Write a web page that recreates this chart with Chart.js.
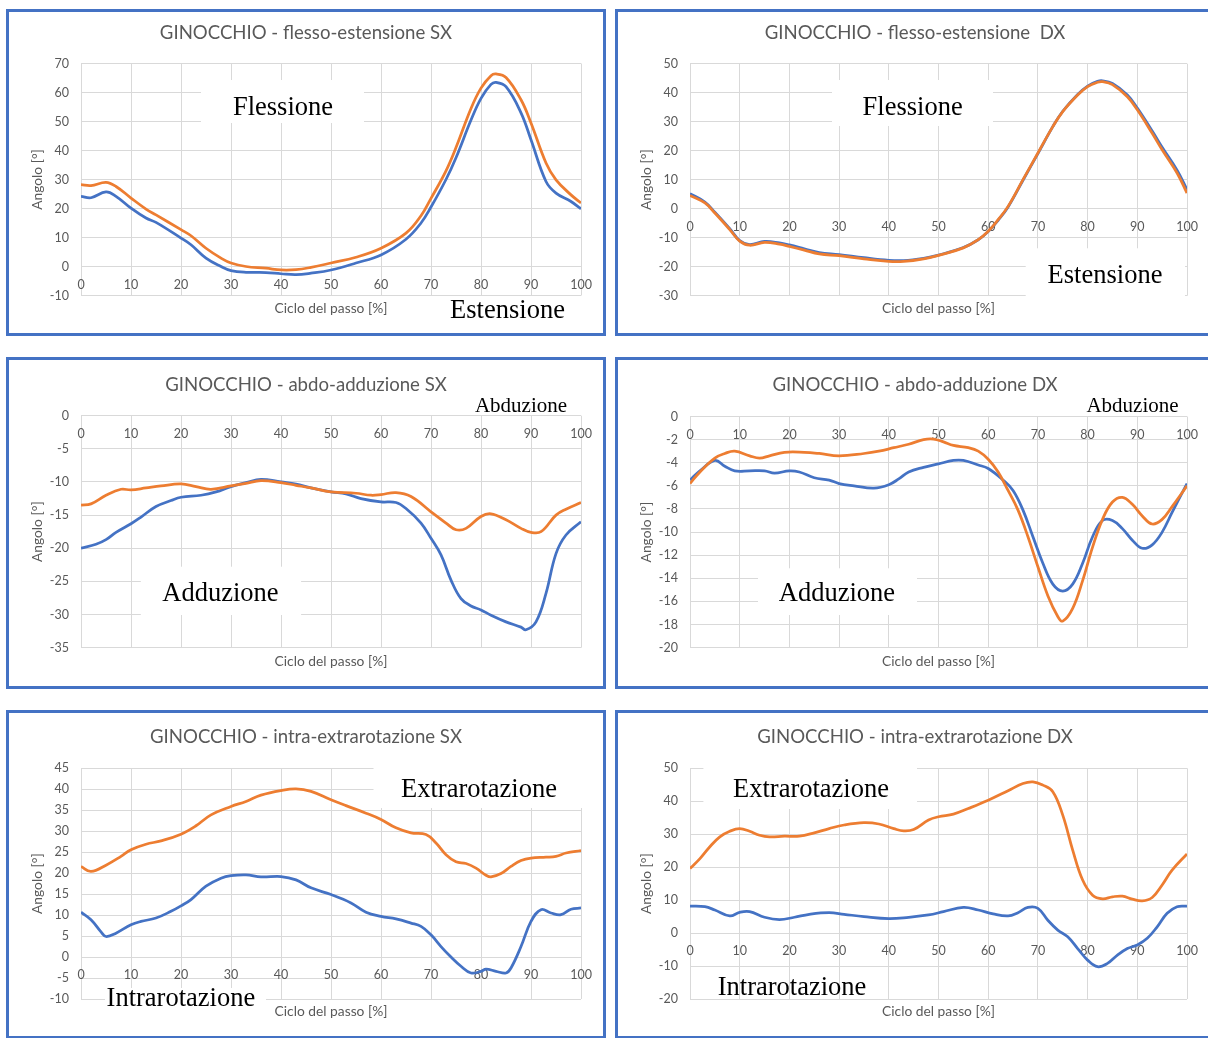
<!DOCTYPE html>
<html>
<head>
<meta charset="utf-8">
<script src="https://cdn.jsdelivr.net/npm/chart.js@4.4.1/dist/chart.umd.min.js"></script>
<style>
  html, body { margin: 0; padding: 0; background: #ffffff; }
  body { position: relative; width: 1208px; height: 1038px; overflow: hidden; }
  .panel { position: absolute; width: 600px; background: #ffffff; }
  .panel canvas { position: absolute; left: 0; top: 0; }
  .frame { position: absolute; left: 0; top: 0; right: 0; bottom: 0; border: 3px solid #4472C4; box-sizing: border-box; pointer-events: none; }
</style>
</head>
<body>
<div class="panel" id="p1"><canvas id="c1"></canvas><div class="frame"></div></div>
<div class="panel" id="p2"><canvas id="c2"></canvas><div class="frame"></div></div>
<div class="panel" id="p3"><canvas id="c3"></canvas><div class="frame"></div></div>
<div class="panel" id="p4"><canvas id="c4"></canvas><div class="frame"></div></div>
<div class="panel" id="p5"><canvas id="c5"></canvas><div class="frame"></div></div>
<div class="panel" id="p6"><canvas id="c6"></canvas><div class="frame"></div></div>
<script>
// ---- Knee angles over the gait cycle (% of stride) ----

// Flesso-estensione SX
const flexSxX      = [0,2,5,7,10,13,15,20,22,25,28,30,33,37,40,43,46,50,55,60,65,68,70,73,75,78,80,82,83,85,88,90,93,95,98,100];
const flexSxOrange = [28.2,27.9,29.0,27.6,23.6,19.8,17.8,12.7,10.6,6.3,2.9,1.2,0.0,-0.6,-1.2,-1.1,-0.3,1.2,3.2,6.3,11.5,17.5,23.5,33.0,41.0,54.5,61.5,65.8,66.4,65.2,57.5,49.5,35.7,29.9,24.7,21.9];
const flexSxBlue   = [24.2,23.7,25.7,24.2,20.1,16.7,15.2,9.8,7.5,2.9,0.0,-1.4,-2.0,-2.1,-2.5,-2.8,-2.3,-1.2,1.2,4.0,9.4,15.0,20.5,30.0,37.5,50.5,58.0,62.8,63.5,62.0,53.0,43.7,29.3,25.3,22.4,19.9];

// Flesso-estensione DX
const flexDxX      = [0,3,5,8,10,12,15,18,20,23,26,30,35,40,43,47,50,55,58,60,62,64,67,70,73,75,78,80,82,83,85,88,90,93,95,98,100];
const flexDxOrange = [4.6,2.0,-1.5,-7.2,-11.2,-12.6,-11.6,-12.2,-13.0,-14.3,-15.6,-16.2,-17.3,-18.2,-18.2,-17.3,-16.1,-13.5,-10.7,-7.8,-3.8,0.8,10.0,19.2,28.3,33.5,39.2,42.1,43.6,43.8,42.8,38.6,34.1,26.0,20.3,12.3,5.4];
const flexDxBlue   = [5.2,2.3,-1.2,-6.9,-11.0,-12.4,-11.3,-11.8,-12.5,-13.8,-15.1,-15.8,-16.9,-17.8,-17.9,-17.1,-16.0,-13.4,-10.7,-7.9,-4.0,0.6,9.8,19.0,28.3,33.6,39.4,42.3,43.9,44.1,43.2,39.2,34.7,26.8,21.2,13.3,6.6];

// Abdo-adduzione SX
const abdSxOrangeX = [0,2,5,8,10,13,16,20,23,26,30,33,36,40,43,46,50,55,58,60,63,66,70,73,75,77,80,82,85,88,90,92,95,97,100];
const abdSxOrange  = [-13.5,-13.3,-12.0,-11.1,-11.2,-10.9,-10.6,-10.3,-10.7,-11.1,-10.6,-10.2,-9.8,-10.1,-10.5,-10.9,-11.5,-11.7,-12.0,-11.9,-11.6,-12.2,-14.5,-16.2,-17.2,-17.0,-15.2,-14.8,-15.7,-17.0,-17.6,-17.5,-15.0,-14.1,-13.1];
const abdSxBlueX   = [0,3,5,7,10,12,15,18,20,24,27,30,33,36,40,43,46,50,53,56,60,63,65,68,70,72,74,76,78,80,82,85,88,89,91,93,95,97,100];
const abdSxBlue    = [-20.0,-19.4,-18.7,-17.6,-16.3,-15.3,-13.7,-12.8,-12.3,-12.0,-11.5,-10.7,-10.1,-9.6,-10.0,-10.3,-10.9,-11.5,-11.8,-12.5,-13.0,-13.1,-14.0,-16.2,-18.5,-21.0,-24.8,-27.6,-28.7,-29.3,-30.1,-31.1,-31.9,-32.3,-31.1,-26.8,-20.8,-18.0,-16.0];

// Abdo-adduzione DX
const abdDxOrangeX = [0,2,5,7,9,12,14,16,19,23,26,30,35,38,41,44,47,49,51,53,56,58,60,62,64,66,68,70,72,74,75,77,79,81,83,85,87,89,91,93,95,97,100];
const abdDxOrange  = [-5.8,-4.8,-3.6,-3.2,-3.0,-3.4,-3.6,-3.4,-3.1,-3.1,-3.2,-3.4,-3.2,-3.0,-2.7,-2.4,-2.0,-1.95,-2.2,-2.5,-2.7,-3.0,-3.7,-4.8,-6.4,-8.1,-10.4,-13.0,-15.5,-17.3,-17.7,-16.6,-14.2,-11.3,-8.9,-7.4,-7.0,-7.6,-8.6,-9.3,-8.9,-7.8,-6.0];
const abdDxBlueX   = [0,2,5,7,9,12,15,17,20,22,25,28,30,33,37,40,42,44,47,50,53,55,58,60,63,65,67,69,71,73,75,77,79,81,83,85,87,89,91,93,95,97,100];
const abdDxBlue    = [-5.5,-4.7,-3.8,-4.3,-4.7,-4.7,-4.7,-4.9,-4.7,-4.8,-5.3,-5.5,-5.8,-6.0,-6.2,-5.9,-5.4,-4.8,-4.4,-4.1,-3.8,-3.8,-4.2,-4.5,-5.5,-6.4,-8.1,-10.4,-12.7,-14.5,-15.1,-14.5,-12.7,-10.4,-9.0,-9.0,-9.7,-10.7,-11.4,-11.1,-10.0,-8.3,-5.8];

// Intra-extrarotazione SX
const rotSxOrangeX = [0,2,5,8,10,13,16,20,23,26,30,33,36,40,43,46,50,53,57,60,63,66,69,71,73,75,77,79,81,82,84,86,88,90,93,95,97,100];
const rotSxOrange  = [21.6,20.4,21.9,24.0,25.6,26.9,27.7,29.3,31.3,33.9,35.9,37.1,38.6,39.7,40.1,39.5,37.5,36.1,34.3,32.8,30.8,29.6,29.2,27.2,24.4,22.7,22.3,21.2,19.5,19.1,19.9,21.6,23.0,23.6,23.8,24.0,24.8,25.4];
const rotSxBlueX   = [0,2,4,5,7,10,12,15,18,20,22,25,28,30,33,36,40,43,46,50,54,57,60,63,66,68,70,72,74,76,78,80,81,83,85,86,88,90,92,94,96,98,100];
const rotSxBlue    = [10.7,8.9,6.0,4.9,5.7,7.7,8.5,9.3,10.9,12.2,13.7,16.9,18.8,19.4,19.6,19.1,19.2,18.4,16.5,14.9,12.9,10.7,9.7,9.1,8.1,7.3,5.3,2.5,0.0,-2.2,-3.8,-3.4,-2.9,-3.4,-3.8,-2.6,2.5,8.5,11.3,10.5,10.1,11.4,11.7];

// Intra-extrarotazione DX
const rotDxOrangeX = [0,2,4,6,8,10,12,14,16,19,22,25,28,31,35,38,41,43,45,48,50,53,56,60,64,67,69,71,73,75,77,79,81,83,85,87,89,91,93,95,97,100];
const rotDxOrange  = [19.6,22.6,26.2,29.2,30.9,31.7,30.9,29.7,29.2,29.4,29.4,30.4,31.7,32.8,33.5,33.1,31.7,31.0,31.4,34.3,35.3,36.1,37.8,40.3,43.2,45.4,45.9,44.9,42.9,35.8,25.2,16.1,11.5,10.4,11.0,11.2,10.3,9.8,10.8,14.6,19.1,24.0];
const rotDxBlueX   = [0,3,5,8,10,12,15,18,21,24,28,31,35,40,44,48,51,55,58,61,64,66,68,70,72,74,76,78,80,82,84,86,88,90,92,94,96,98,100];
const rotDxBlue    = [8.2,8.0,7.0,5.2,6.3,6.5,4.8,4.1,4.8,5.7,6.2,5.7,5.0,4.4,4.8,5.5,6.5,7.8,7.0,5.8,5.2,6.2,7.8,7.5,3.9,0.9,-1.1,-4.7,-8.2,-10.2,-9.2,-6.7,-4.7,-3.6,-1.6,1.9,6.0,8.0,8.2];

// Axis titles
const xAxisTitle = 'Ciclo del passo [%]';
const yAxisTitle = 'Angolo [°]';

// ---- Styling ----
const BLUE = '#4472C4';
const ORANGE = '#ED7D31';
const GRID = '#d9d9d9';
const TEXT = '#595959';
const SANS = 'Lato, "Open Sans", sans-serif';
const SERIF = '"Liberation Serif", "Times New Roman", serif';
const TITLE_SIZE = 18.6, TICK_SIZE = 12.5, AXIS_TITLE_SIZE = 13.8;

Chart.defaults.font.family = SANS;
Chart.defaults.color = TEXT;

// Panel frames and chart geometry (canvas pixels)
const panels = [
  { id: 1, left: 6,   top: 9,   h: 327, padR: 25, titleY: 24,   plotTop: 54.5, plotBottom: 286.5, xTitleY: 300,
    title: 'GINOCCHIO - flesso-estensione SX', yMin: -10, yMax: 70, yStep: 10,
    blue: [flexSxX, flexSxBlue], orange: [flexSxX, flexSxOrange],
    notes: [
      { text: 'Flessione',  x: 277,   y: 106,   size: 26.5, box: [195, 71, 358, 114] },
      { text: 'Estensione', x: 501.5, y: 309.3, size: 26.5 }
    ] },
  { id: 2, left: 615, top: 9,   h: 327, padR: 28, titleY: 24,   plotTop: 54.7, plotBottom: 286.7, xTitleY: 300,
    title: 'GINOCCHIO - flesso-estensione  DX', yMin: -30, yMax: 50, yStep: 10,
    blue: [flexDxX, flexDxBlue], orange: [flexDxX, flexDxOrange],
    notes: [
      { text: 'Flessione',  x: 297.6, y: 106,   size: 26.5, box: [217, 71, 378, 117] },
      { text: 'Estensione', x: 490,   y: 273.7, size: 26.5, box: [410.7, 239.3, 570, 288] }
    ] },
  { id: 3, left: 6,   top: 357, h: 332, padR: 25, titleY: 28,   plotTop: 58.7, plotBottom: 290.7, xTitleY: 304.7,
    title: 'GINOCCHIO - abdo-adduzione SX', yMin: -35, yMax: 0, yStep: 5,
    blue: [abdSxBlueX, abdSxBlue], orange: [abdSxOrangeX, abdSxOrange],
    notes: [
      { text: 'Abduzione', x: 515,   y: 54.7,  size: 21 },
      { text: 'Adduzione', x: 214.4, y: 243.7, size: 26.5, box: [134.8, 209.7, 295.1, 258] }
    ] },
  { id: 4, left: 615, top: 357, h: 332, padR: 28, titleY: 28,   plotTop: 59.5, plotBottom: 290.7, xTitleY: 304.7,
    title: 'GINOCCHIO - abdo-adduzione DX', yMin: -20, yMax: 0, yStep: 2,
    blue: [abdDxBlueX, abdDxBlue], orange: [abdDxOrangeX, abdDxOrange],
    notes: [
      { text: 'Abduzione', x: 517.5, y: 54.7,  size: 21 },
      { text: 'Adduzione', x: 221.9, y: 243.7, size: 26.5, box: [143, 211.3, 302, 258] }
    ] },
  { id: 5, left: 6,   top: 710, h: 329, padR: 25, titleY: 27.3, plotTop: 58.3, plotBottom: 289, xTitleY: 301.7,
    title: 'GINOCCHIO - intra-extrarotazione SX', yMin: -10, yMax: 45, yStep: 5,
    blue: [rotSxBlueX, rotSxBlue], orange: [rotSxOrangeX, rotSxOrange],
    notes: [
      { text: 'Extrarotazione', x: 473,   y: 87.3, size: 26.5, box: [367.5, 50, 590, 98] },
      { text: 'Intrarotazione', x: 174.9, y: 296,  size: 26.5, box: [99, 278, 260, 303] }
    ] },
  { id: 6, left: 615, top: 710, h: 329, padR: 28, titleY: 27.3, plotTop: 58.3, plotBottom: 289, xTitleY: 301.7,
    title: 'GINOCCHIO - intra-extrarotazione DX', yMin: -20, yMax: 50, yStep: 10,
    blue: [rotDxBlueX, rotDxBlue], orange: [rotDxOrangeX, rotDxOrange],
    notes: [
      { text: 'Extrarotazione', x: 196, y: 87.3, size: 26.5, box: [88.4, 50, 302, 99] },
      { text: 'Intrarotazione', x: 177, y: 285,  size: 26.5 }
    ] }
];

const PLOT_LEFT = 75;      // left edge of the plot area inside each panel
const Y_TITLE_X = 32;      // centre of the rotated y-axis title

function toPoints(xs, ys) {
  return xs.map((x, i) => ({ x: x, y: ys[i] }));
}

// Text boxes drawn on top of the grid (white backing + serif caption)
function notesPlugin(notes) {
  return {
    id: 'notes',
    beforeDatasetsDraw(chart) {
      const ctx = chart.ctx;
      ctx.save();
      ctx.fillStyle = '#ffffff';
      notes.forEach(n => {
        if (n.box) {
          const [x0, y0, x1, y1] = n.box;
          ctx.fillRect(x0, y0, x1 - x0, y1 - y0);
        }
      });
      ctx.restore();
    },
    afterDatasetsDraw(chart) {
      const ctx = chart.ctx;
      ctx.save();
      ctx.fillStyle = '#000000';
      ctx.textAlign = 'center';
      ctx.textBaseline = 'alphabetic';
      notes.forEach(n => {
        ctx.font = n.size + 'px ' + SERIF;
        ctx.fillText(n.text, n.x, n.y);
      });
      ctx.restore();
    }
  };
}

panels.forEach(p => {
  const wrap = document.getElementById('p' + p.id);
  wrap.style.left = p.left + 'px';
  wrap.style.top = p.top + 'px';
  wrap.style.height = p.h + 'px';
  const canvas = document.getElementById('c' + p.id);
  canvas.width = 600;
  canvas.height = p.h;
  canvas.style.width = '600px';
  canvas.style.height = p.h + 'px';

  const titleLH = TITLE_SIZE * 1.2;
  const axisLH = AXIS_TITLE_SIZE * 1.2;
  const titleTop = p.titleY - titleLH / 2;
  const titleBottom = p.plotTop - titleTop - titleLH;
  const bottomBand = p.h - p.plotBottom;
  const xTitlePad = p.h - p.xTitleY - axisLH / 2;
  const yAxisWidth = PLOT_LEFT - p.padR;
  const yTitlePad = Y_TITLE_X - p.padR - axisLH / 2;

  new Chart(canvas, {
    type: 'line',
    data: {
      datasets: [
        {
          label: 'Blu',
          data: toPoints(p.blue[0], p.blue[1]),
          borderColor: BLUE,
          borderWidth: 2.75,
          pointRadius: 0,
          tension: 0.4,
          fill: false,
          order: 1,
          xAxisID: 'x',
          yAxisID: 'y'
        },
        {
          label: 'Arancio',
          data: toPoints(p.orange[0], p.orange[1]),
          borderColor: ORANGE,
          borderWidth: 2.75,
          pointRadius: 0,
          tension: 0.4,
          fill: false,
          order: 0,
          xAxisID: 'x',
          yAxisID: 'y'
        }
      ]
    },
    options: {
      responsive: false,
      animation: false,
      events: [],
      layout: { padding: { left: p.padR, right: p.padR, top: 0, bottom: 0 } },
      plugins: {
        legend: { display: false },
        tooltip: { enabled: false },
        title: {
          display: true,
          text: p.title,
          color: TEXT,
          font: { family: SANS, size: TITLE_SIZE, weight: 'normal' },
          padding: { top: titleTop, bottom: titleBottom }
        }
      },
      scales: {
        x: {
          type: 'linear',
          position: { y: 0 },
          min: 0,
          max: 100,
          grid: { color: GRID, lineWidth: 1, drawTicks: false },
          border: { display: false },
          ticks: {
            stepSize: 10,
            padding: 10.5,
            maxRotation: 0,
            autoSkip: false,
            color: TEXT,
            font: { family: SANS, size: TICK_SIZE }
          },
          afterFit(scale) { scale.height = 0; }
        },
        xt: {
          type: 'linear',
          axis: 'x',
          position: 'bottom',
          min: 0,
          max: 100,
          grid: { display: false },
          border: { display: false },
          ticks: { display: false },
          title: {
            display: true,
            text: xAxisTitle,
            color: TEXT,
            font: { family: SANS, size: AXIS_TITLE_SIZE },
            padding: { top: 0, bottom: xTitlePad }
          },
          afterFit(scale) { scale.height = bottomBand; }
        },
        y: {
          type: 'linear',
          position: 'left',
          min: p.yMin,
          max: p.yMax,
          grid: { color: GRID, lineWidth: 1, drawTicks: false },
          border: { display: false },
          ticks: {
            stepSize: p.yStep,
            padding: 12,
            color: TEXT,
            font: { family: SANS, size: TICK_SIZE }
          },
          title: {
            display: true,
            text: yAxisTitle,
            color: TEXT,
            font: { family: SANS, size: AXIS_TITLE_SIZE },
            padding: { top: yTitlePad, bottom: 0 }
          },
          afterFit(scale) { scale.width = yAxisWidth; }
        }
      }
    },
    plugins: [notesPlugin(p.notes)]
  });
});
</script>
</body>
</html>
